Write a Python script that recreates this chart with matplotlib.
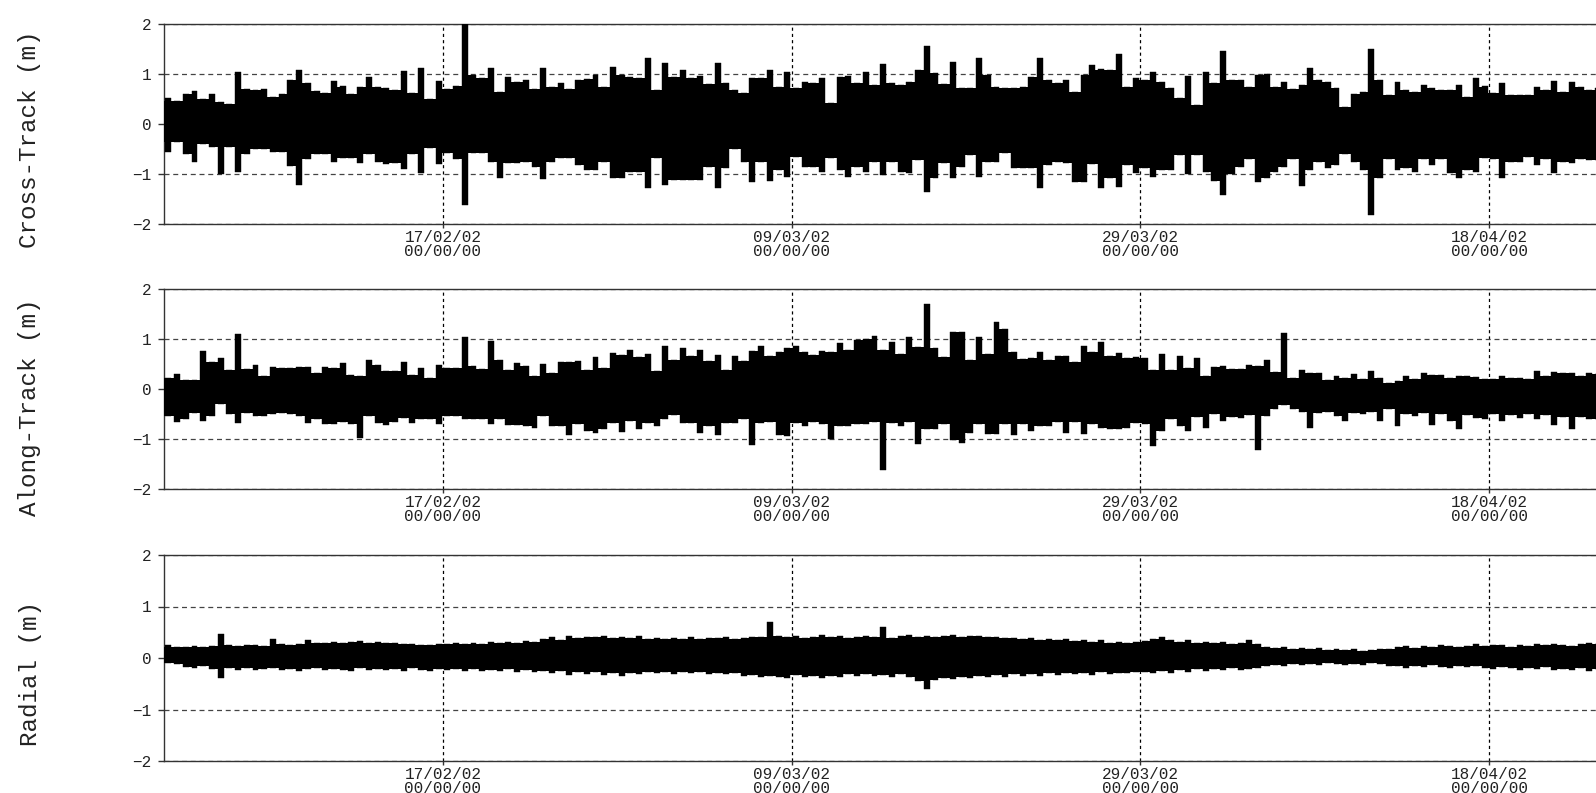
import numpy as np
import pandas as pd
import matplotlib
matplotlib.use("Agg")
import matplotlib.pyplot as plt
import matplotlib.dates as mdates

plt.rcParams['font.family'] = ['Liberation Mono', 'DejaVu Sans']

# ---- data: 12-hour envelope (max / min) of the residuals, starting 01/02/2002 00:00 ----
start_time = "2002-02-01 00:00"
sample_step = "12h"

cross_hi = [
    0.52, 0.47, 0.60, 0.67, 0.50, 0.60, 0.45, 0.40, 1.04, 0.70,
    0.68, 0.70, 0.55, 0.60, 0.88, 1.08, 0.82, 0.67, 0.62, 0.87,
    0.75, 0.60, 0.75, 0.95, 0.75, 0.72, 0.68, 1.05, 0.62, 1.13,
    0.50, 0.87, 0.70, 0.77, 2.00, 0.99, 0.92, 1.12, 0.65, 0.94,
    0.85, 0.88, 0.70, 1.13, 0.75, 0.82, 0.70, 0.88, 0.90, 0.99,
    0.75, 1.15, 0.98, 0.95, 0.92, 1.32, 0.69, 1.23, 0.95, 1.07,
    0.92, 0.97, 0.80, 1.23, 0.83, 0.69, 0.62, 0.92, 0.92, 1.09,
    0.75, 1.04, 0.72, 0.85, 0.82, 0.92, 0.42, 0.95, 0.97, 0.82,
    1.05, 0.79, 1.20, 0.82, 0.79, 0.85, 1.09, 1.57, 1.02, 0.80,
    1.25, 0.72, 0.72, 1.31, 0.99, 0.75, 0.73, 0.73, 0.75, 0.95,
    1.33, 0.88, 0.82, 0.88, 0.65, 0.99, 1.19, 1.09, 1.09, 1.40,
    0.75, 0.92, 0.88, 1.04, 0.85, 0.73, 0.53, 0.97, 0.39, 1.04,
    0.82, 1.47, 0.88, 0.88, 0.75, 0.99, 1.00, 0.75, 0.85, 0.71,
    0.79, 1.12, 0.88, 0.85, 0.73, 0.35, 0.60, 0.65, 1.50, 0.88,
    0.59, 0.85, 0.69, 0.65, 0.79, 0.72, 0.69, 0.69, 0.79, 0.55,
    0.92, 0.75, 0.62, 0.82, 0.59, 0.59, 0.59, 0.75, 0.69, 0.87,
    0.65, 0.85, 0.75, 0.69, 0.72,
]
cross_lo = [
    -0.55, -0.35, -0.60, -0.75, -0.40, -0.45, -1.00, -0.45, -0.95, -0.60,
    -0.50, -0.50, -0.55, -0.55, -0.83, -1.21, -0.70, -0.60, -0.60, -0.75,
    -0.68, -0.68, -0.78, -0.60, -0.75, -0.80, -0.78, -0.90, -0.60, -0.98,
    -0.48, -0.80, -0.58, -0.70, -1.61, -0.58, -0.58, -0.75, -1.08, -0.78,
    -0.78, -0.75, -0.85, -1.10, -0.75, -0.68, -0.68, -0.82, -0.91, -0.91,
    -0.75, -1.07, -1.07, -0.95, -0.95, -1.28, -0.68, -1.21, -1.11, -1.11,
    -1.11, -1.11, -0.85, -1.27, -0.88, -0.50, -0.75, -1.15, -0.75, -1.13,
    -0.91, -1.05, -0.65, -0.85, -0.85, -0.95, -0.68, -0.91, -1.05, -0.85,
    -0.95, -0.75, -1.01, -0.75, -0.95, -0.98, -0.71, -1.35, -1.08, -0.78,
    -1.08, -0.85, -0.61, -1.05, -0.75, -0.75, -0.58, -0.88, -0.88, -0.88,
    -1.27, -0.81, -0.75, -0.78, -1.15, -1.15, -0.80, -1.27, -1.08, -1.25,
    -0.81, -0.98, -0.88, -1.05, -0.91, -0.91, -0.61, -1.00, -0.61, -0.95,
    -1.13, -1.41, -1.00, -0.85, -0.70, -1.15, -1.08, -0.95, -0.85, -0.70,
    -1.23, -0.91, -0.75, -0.88, -0.81, -0.60, -0.75, -0.91, -1.81, -1.08,
    -0.70, -0.91, -0.88, -0.95, -0.70, -0.81, -0.70, -0.98, -1.08, -0.91,
    -0.95, -0.68, -0.70, -1.08, -0.75, -0.75, -0.65, -0.81, -0.70, -0.98,
    -0.75, -0.78, -0.70, -0.71, -0.72,
]

along_hi = [
    0.22, 0.30, 0.19, 0.19, 0.77, 0.55, 0.62, 0.39, 1.10, 0.40,
    0.49, 0.26, 0.44, 0.42, 0.42, 0.44, 0.44, 0.32, 0.44, 0.42,
    0.52, 0.29, 0.27, 0.59, 0.48, 0.36, 0.36, 0.54, 0.29, 0.42,
    0.23, 0.49, 0.42, 0.42, 1.04, 0.46, 0.40, 0.97, 0.59, 0.39,
    0.52, 0.46, 0.26, 0.50, 0.32, 0.55, 0.55, 0.57, 0.39, 0.65,
    0.42, 0.73, 0.69, 0.79, 0.64, 0.71, 0.36, 0.87, 0.59, 0.82,
    0.66, 0.79, 0.56, 0.69, 0.39, 0.66, 0.56, 0.77, 0.87, 0.66,
    0.75, 0.82, 0.87, 0.75, 0.69, 0.77, 0.75, 0.93, 0.79, 0.99,
    1.00, 1.07, 0.79, 0.95, 0.70, 1.04, 0.85, 1.70, 0.82, 0.65,
    1.15, 1.15, 0.59, 1.05, 0.70, 1.35, 1.20, 0.75, 0.60, 0.62,
    0.75, 0.59, 0.67, 0.67, 0.55, 0.87, 0.75, 0.95, 0.67, 0.73,
    0.62, 0.64, 0.62, 0.38, 0.71, 0.39, 0.66, 0.42, 0.62, 0.26,
    0.44, 0.47, 0.40, 0.40, 0.49, 0.47, 0.58, 0.35, 1.13, 0.23,
    0.38, 0.32, 0.32, 0.19, 0.27, 0.22, 0.30, 0.20, 0.36, 0.22,
    0.13, 0.16, 0.26, 0.20, 0.32, 0.29, 0.29, 0.22, 0.26, 0.26,
    0.25, 0.20, 0.21, 0.26, 0.23, 0.23, 0.20, 0.36, 0.26, 0.34,
    0.32, 0.32, 0.26, 0.32, 0.30,
]
along_lo = [
    -0.54, -0.66, -0.59, -0.47, -0.64, -0.54, -0.30, -0.50, -0.68, -0.47,
    -0.54, -0.54, -0.50, -0.47, -0.50, -0.54, -0.68, -0.60, -0.70, -0.70,
    -0.66, -0.70, -0.97, -0.54, -0.68, -0.72, -0.66, -0.57, -0.68, -0.60,
    -0.60, -0.70, -0.54, -0.54, -0.59, -0.59, -0.60, -0.70, -0.60, -0.72,
    -0.72, -0.74, -0.77, -0.54, -0.74, -0.74, -0.92, -0.70, -0.83, -0.88,
    -0.80, -0.67, -0.85, -0.64, -0.80, -0.67, -0.74, -0.59, -0.52, -0.68,
    -0.68, -0.87, -0.74, -0.92, -0.67, -0.67, -0.60, -1.12, -0.68, -0.65,
    -0.92, -0.93, -0.67, -0.74, -0.65, -0.70, -1.00, -0.74, -0.74, -0.70,
    -0.70, -0.65, -1.61, -0.67, -0.74, -0.65, -1.10, -0.80, -0.80, -0.70,
    -1.01, -1.07, -0.87, -0.70, -0.90, -0.90, -0.70, -0.92, -0.70, -0.83,
    -0.74, -0.74, -0.65, -0.87, -0.65, -0.90, -0.70, -0.77, -0.80, -0.80,
    -0.77, -0.67, -0.70, -1.13, -0.83, -0.60, -0.74, -0.83, -0.55, -0.77,
    -0.50, -0.64, -0.55, -0.57, -0.52, -1.21, -0.54, -0.40, -0.32, -0.40,
    -0.45, -0.77, -0.47, -0.45, -0.54, -0.64, -0.47, -0.50, -0.45, -0.64,
    -0.40, -0.74, -0.50, -0.54, -0.48, -0.72, -0.50, -0.64, -0.79, -0.52,
    -0.57, -0.60, -0.50, -0.64, -0.52, -0.57, -0.50, -0.59, -0.52, -0.72,
    -0.55, -0.80, -0.55, -0.59, -0.60,
]

radial_hi = [
    0.26, 0.22, 0.21, 0.23, 0.22, 0.24, 0.46, 0.25, 0.24, 0.26,
    0.25, 0.24, 0.37, 0.27, 0.26, 0.28, 0.35, 0.29, 0.30, 0.32,
    0.29, 0.31, 0.33, 0.30, 0.31, 0.29, 0.30, 0.27, 0.28, 0.26,
    0.25, 0.27, 0.28, 0.30, 0.27, 0.29, 0.28, 0.31, 0.30, 0.32,
    0.29, 0.33, 0.31, 0.36, 0.40, 0.35, 0.42, 0.38, 0.41, 0.40,
    0.42, 0.39, 0.41, 0.38, 0.42, 0.37, 0.38, 0.36, 0.39, 0.37,
    0.40, 0.36, 0.39, 0.38, 0.40, 0.37, 0.39, 0.41, 0.40, 0.70,
    0.42, 0.40, 0.43, 0.39, 0.41, 0.44, 0.40, 0.42, 0.39, 0.41,
    0.43, 0.40, 0.60, 0.38, 0.42, 0.44, 0.41, 0.43, 0.40, 0.42,
    0.44, 0.41, 0.43, 0.42, 0.40, 0.41, 0.39, 0.38, 0.36, 0.39,
    0.35, 0.37, 0.34, 0.36, 0.33, 0.35, 0.32, 0.34, 0.30, 0.32,
    0.29, 0.31, 0.33, 0.36, 0.41, 0.34, 0.32, 0.35, 0.30, 0.31,
    0.29, 0.32, 0.28, 0.30, 0.35, 0.27, 0.22, 0.20, 0.21, 0.18,
    0.20, 0.17, 0.19, 0.16, 0.18, 0.15, 0.17, 0.14, 0.16, 0.18,
    0.17, 0.21, 0.23, 0.20, 0.24, 0.22, 0.25, 0.23, 0.21, 0.24,
    0.27, 0.23, 0.26, 0.25, 0.22, 0.26, 0.24, 0.27, 0.25, 0.28,
    0.26, 0.24, 0.28, 0.30, 0.27,
]
radial_lo = [
    -0.10, -0.12, -0.18, -0.20, -0.16, -0.21, -0.39, -0.20, -0.24, -0.19,
    -0.23, -0.22, -0.20, -0.24, -0.21, -0.25, -0.22, -0.20, -0.24, -0.21,
    -0.23, -0.25, -0.20, -0.23, -0.21, -0.24, -0.22, -0.25, -0.20, -0.23,
    -0.26, -0.22, -0.24, -0.21, -0.25, -0.22, -0.26, -0.23, -0.25, -0.22,
    -0.27, -0.24, -0.28, -0.25, -0.30, -0.26, -0.33, -0.28, -0.32, -0.27,
    -0.33, -0.29, -0.34, -0.30, -0.32, -0.28, -0.30, -0.27, -0.31, -0.28,
    -0.30, -0.27, -0.31, -0.29, -0.32, -0.30, -0.35, -0.33, -0.37, -0.34,
    -0.36, -0.38, -0.33, -0.37, -0.34, -0.38, -0.35, -0.37, -0.32, -0.34,
    -0.31, -0.35, -0.33, -0.36, -0.32, -0.37, -0.45, -0.60, -0.42, -0.38,
    -0.40, -0.36, -0.39, -0.35, -0.37, -0.33, -0.36, -0.32, -0.35, -0.31,
    -0.34, -0.30, -0.33, -0.29, -0.32, -0.30, -0.33, -0.28, -0.31, -0.29,
    -0.30, -0.28, -0.27, -0.30, -0.26, -0.29, -0.24, -0.27, -0.22, -0.25,
    -0.21, -0.24, -0.20, -0.23, -0.21, -0.19, -0.15, -0.13, -0.16, -0.12,
    -0.14, -0.11, -0.13, -0.10, -0.12, -0.14, -0.11, -0.13, -0.10, -0.12,
    -0.15, -0.16, -0.19, -0.15, -0.18, -0.14, -0.17, -0.20, -0.15, -0.18,
    -0.16, -0.19, -0.21, -0.17, -0.20, -0.24, -0.19, -0.22, -0.18, -0.23,
    -0.21, -0.24, -0.20, -0.25, -0.22,
]

panel_labels = ["Cross-Track (m)", "Along-Track (m)", "Radial (m)"]
tick_dates = ["2002-02-17", "2002-03-09", "2002-03-29", "2002-04-18"]
tick_labels = ["17/02/02\n00/00/00", "09/03/02\n00/00/00",
               "29/03/02\n00/00/00", "18/04/02\n00/00/00"]
y_ticks = [-2, -1, 0, 1, 2]
x_range = ["2002-02-01", "2002-05-01"]

series = [(cross_hi, cross_lo), (along_hi, along_lo), (radial_hi, radial_lo)]

# ---- layout (pixels of a 1596 x 793 canvas) ----
W, H = 1596, 793
px_per_day = 17.435
left_px = 164
panel_px = [(24, 224), (289, 489), (555, 761)]       # top, bottom
label_y_px = [139, 407, 674]
slot = 0.5          # days per envelope sample
spike_w = 0.34      # drawn width of each sample's spike (days)

fig = plt.figure(figsize=(W / 100, H / 100), dpi=100)
x0, x1 = mdates.date2num(pd.Timestamp(x_range[0])), mdates.date2num(pd.Timestamp(x_range[1]))
width_frac = (x1 - x0) * px_per_day / W

for (hi, lo), (top, bot), lab, ly in zip(series, panel_px, panel_labels, label_y_px):
    ax = fig.add_axes([left_px / W, (H - bot) / H, width_frac, (bot - top) / H])
    hi = np.asarray(hi, float)
    lo = np.asarray(lo, float)
    n = min(len(hi), len(lo))
    hi, lo = hi[:n], lo[:n]
    t = mdates.date2num(pd.date_range(start_time, periods=n, freq=sample_step))
    centers = t + slot / 2

    # solid core between neighbouring samples
    core_hi = np.append(np.minimum(hi[:-1], hi[1:]), hi[-1])
    core_lo = np.append(np.maximum(lo[:-1], lo[1:]), lo[-1])
    ax.fill_between(np.append(t[0], centers), np.append(core_hi[0], core_hi),
                    np.append(core_lo[0], core_lo), step='post',
                    color='black', linewidth=0, zorder=3)
    # each sample's full excursion
    ax.bar(centers, hi - lo, bottom=lo, width=spike_w, align='center',
           color='black', edgecolor='black', linewidth=0.3, zorder=3)

    ax.set_xlim(x0, x1)
    ax.set_ylim(-2, 2)
    ax.set_yticks(y_ticks)
    ax.set_xticks(mdates.date2num(pd.to_datetime(tick_dates)))
    ax.set_xticklabels(tick_labels, fontsize=11.5, linespacing=0.95, color='#222222')
    ax.tick_params(axis='y', labelsize=11.5, labelcolor='#222222', direction='out',
                   length=4, width=1, color='#333333', pad=5)
    ax.tick_params(axis='x', direction='out', length=3, width=1,
                   color='#333333', pad=1)
    ax.set_axisbelow(True)
    ax.xaxis.grid(True, color='black', linestyle=(0, (2.5, 2.5)), linewidth=0.9)
    ax.yaxis.grid(True, color='#444444', linestyle=(0, (4, 3)), linewidth=0.9)
    for s in ax.spines.values():
        s.set_color('#333333')
        s.set_linewidth(1.0)

    fig.text(30 / W, 1 - ly / H, lab, rotation=90, ha='center', va='center',
             fontsize=17.5, color='#222222')

fig.savefig("out.png", dpi=100)
